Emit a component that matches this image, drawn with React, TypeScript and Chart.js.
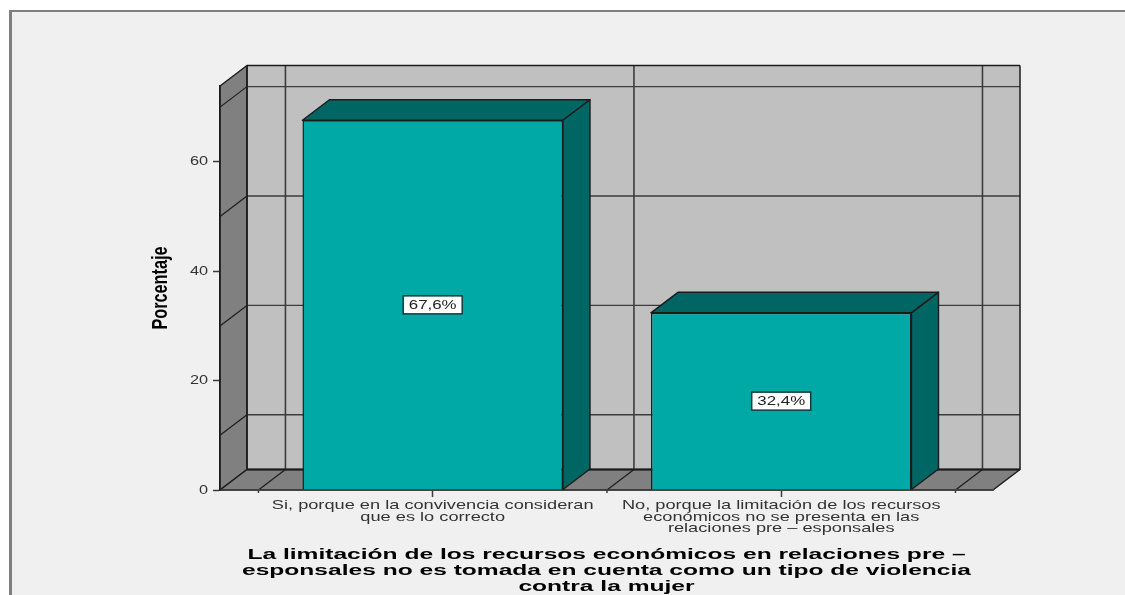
import React, { useEffect, useRef } from "react";
import { Chart, registerables } from "chart.js";

Chart.register(...registerables);

const categories: string[][] = [
  ["Si, porque en la convivencia consideran", "que es lo correcto"],
  ["No, porque la limitación de los recursos", "económicos no se presenta en las", "relaciones pre – esponsales"],
];
const categoryPositions = [0, 1];
const percentages = [67.6, 32.4];
const valueLabels = ["67,6%", "32,4%"];
const yTickValues = [0, 20, 40, 60];
const wallGridValues = [10, 30, 50, 70];
const categoryBoundaries = [-0.5, 0.5, 1.5];
const xTitleLines = [
  "La limitación de los recursos económicos en relaciones pre –",
  "esponsales no es tomada en cuenta como un tipo de violencia",
  "contra la mujer",
];
const yTitle = "Porcentaje";

const DX = 27;
const DY = -20.5;
const C = {
  page: "#ffffff",
  panel: "#f0f0f0",
  frame: "#7f7f7f",
  wall: "#808080",
  back: "#c0c0c0",
  grid: "#3c3c3c",
  edge: "#1c1c1c",
  front: "#00a8a6",
  dark: "#006664",
};

function poly(ctx: CanvasRenderingContext2D, pts: number[][], fill: string | null, stroke: string, lw = 1.5) {
  ctx.beginPath();
  pts.forEach((p, i) => (i ? ctx.lineTo(p[0], p[1]) : ctx.moveTo(p[0], p[1])));
  ctx.closePath();
  if (fill) {
    ctx.fillStyle = fill;
    ctx.fill();
  }
  ctx.strokeStyle = stroke;
  ctx.lineWidth = lw;
  ctx.lineJoin = "round";
  ctx.stroke();
}

function line(ctx: CanvasRenderingContext2D, x1: number, y1: number, x2: number, y2: number, color: string, lw = 1.5) {
  ctx.beginPath();
  ctx.moveTo(x1, y1);
  ctx.lineTo(x2, y2);
  ctx.strokeStyle = color;
  ctx.lineWidth = lw;
  ctx.stroke();
}

// The source picture is a horizontally stretched image: draw text stretched around its anchor.
function stretchText(ctx: any, k: number, draw: () => void) {
  const original = ctx.fillText;
  ctx.fillText = function (text: string, x: number, y: number, ...rest: any[]) {
    ctx.save();
    ctx.translate(x, y);
    ctx.scale(k, 1);
    original.call(ctx, text, 0, 0, ...rest);
    ctx.restore();
  };
  draw();
  delete ctx.fillText;
}

function stretched(scale: any, method: string, k: number) {
  if (scale["_wrapped" + method]) return;
  const original = scale[method];
  scale["_wrapped" + method] = true;
  scale[method] = function (...args: any[]) {
    stretchText(this.ctx, k, () => original.apply(this, args));
  };
}

const scene3d = {
  id: "scene3d",
  afterLayout(chart: any) {
    stretched(chart.scales.x, "drawLabels", 1.4);
    stretched(chart.scales.y, "drawLabels", 1.25);
    stretched(chart.scales.x, "drawTitle", 1.585);
    stretched(chart.scales.y, "drawTitle", 0.74);
  },
  beforeDraw(chart: any) {
    const { ctx, chartArea: a, scales, width, height } = chart;
    const { x, y } = scales;
    ctx.save();
    ctx.fillStyle = C.page;
    ctx.fillRect(0, 0, width, height);
    ctx.fillStyle = C.panel;
    ctx.fillRect(10, 11, width - 10, height - 11);
    ctx.fillStyle = C.frame;
    ctx.fillRect(9, 10, width - 9, 2);
    ctx.fillRect(9, 10, 3, height - 10);

    // back wall
    ctx.fillStyle = C.back;
    ctx.fillRect(a.left + DX, a.top + DY, a.width, a.height);
    // side wall and floor
    poly(ctx, [[a.left, a.top], [a.left + DX, a.top + DY], [a.left + DX, a.bottom + DY], [a.left, a.bottom]], C.wall, C.edge);
    poly(ctx, [[a.left, a.bottom], [a.left + DX, a.bottom + DY], [a.right + DX, a.bottom + DY], [a.right, a.bottom]], C.wall, C.edge);

    wallGridValues.forEach((v) => {
      const py = y.getPixelForValue(v);
      line(ctx, a.left, py, a.left + DX, py + DY, C.edge, 1.2);
      line(ctx, a.left + DX, py + DY, a.right + DX, py + DY, C.grid, 1.4);
    });
    categoryBoundaries.forEach((v) => {
      const px = x.getPixelForValue(v);
      line(ctx, px + DX, a.top + DY, px + DX, a.bottom + DY, C.grid, 1.6);
      line(ctx, px, a.bottom, px + DX, a.bottom + DY, C.edge, 1.2);
      line(ctx, px, a.bottom, px, a.bottom + 3, C.grid, 1.5);
    });
    // wall outline
    line(ctx, a.left + DX, a.top + DY, a.right + DX, a.top + DY, C.edge, 1.5);
    line(ctx, a.right + DX, a.top + DY, a.right + DX, a.bottom + DY, C.edge, 1.5);
    line(ctx, a.left + DX, a.top + DY, a.left + DX, a.bottom + DY, C.edge, 1.5);
    line(ctx, a.left + DX, a.bottom + DY, a.right + DX, a.bottom + DY, C.edge, 2);
    ctx.restore();
  },
  beforeDatasetsDraw(chart: any) {
    const { ctx } = chart;
    const bars = chart.getDatasetMeta(0).data;
    ctx.save();
    bars.forEach((b: any) => {
      const l = b.x - b.width / 2;
      const r = b.x + b.width / 2;
      poly(ctx, [[l, b.y], [l + DX, b.y + DY], [r + DX, b.y + DY], [r, b.y]], C.dark, C.edge);
      poly(ctx, [[r, b.y], [r + DX, b.y + DY], [r + DX, b.base + DY], [r, b.base]], C.dark, C.edge);
    });
    ctx.restore();
  },
  afterDatasetsDraw(chart: any) {
    const { ctx } = chart;
    const bars = chart.getDatasetMeta(0).data;
    ctx.save();
    bars.forEach((b: any, i: number) => {
      const cy = (b.y + b.base) / 2;
      const w = 59;
      const h = 18;
      ctx.fillStyle = "#ffffff";
      ctx.fillRect(b.x - w / 2, cy - h / 2, w, h);
      ctx.strokeStyle = "#123c3c";
      ctx.lineWidth = 1.5;
      ctx.strokeRect(b.x - w / 2, cy - h / 2, w, h);
      ctx.fillStyle = "#222222";
      ctx.font = '13.5px "Liberation Sans"';
      ctx.textAlign = "center";
      ctx.textBaseline = "middle";
      stretchText(ctx, 1.25, () => ctx.fillText(valueLabels[i], b.x, cy + 0.5));
    });
    ctx.restore();
  },
};

export default function App() {
  const ref = useRef<HTMLCanvasElement>(null);
  useEffect(() => {
    document.body.style.margin = "0";
    const chart = new Chart(ref.current as HTMLCanvasElement, {
      type: "bar",
      data: {
        datasets: [
          {
            data: categoryPositions.map((p, i) => ({ x: p, y: percentages[i] })),
            backgroundColor: C.front,
            borderColor: C.edge,
            borderWidth: 1.5,
            barPercentage: 1.495,
            categoryPercentage: 1,
          },
        ],
      },
      options: {
        responsive: false,
        animation: false,
        layout: { padding: { left: 148, right: 132, top: 86, bottom: 0 } },
        plugins: { legend: { display: false }, tooltip: { enabled: false }, title: { display: false } },
        scales: {
          x: {
            type: "linear",
            offset: false,
            min: -0.6103,
            max: 1.6077,
            afterFit: (s: any) => {
              s.height = 105;
            },
            afterBuildTicks: (s: any) => {
              s.ticks = [...categoryBoundaries, ...categoryPositions].sort((p, q) => p - q).map((value) => ({ value }));
            },
            grid: {
              display: true,
              offset: false,
              drawOnChartArea: false,
              drawTicks: true,
              tickLength: 7,
              tickWidth: 1.5,
              tickColor: (c: any) => (categoryPositions.includes(c.tick?.value) ? C.grid : "rgba(0,0,0,0)"),
            },
            border: { display: true, color: C.grid, width: 1.5 },
            ticks: {
              autoSkip: false,
              maxRotation: 0,
              minRotation: 0,
              padding: 2.5,
              color: "#333333",
              font: { family: '"Liberation Sans"', size: 13, lineHeight: 0.9 },
              callback: (v: any) => {
                const i = categoryPositions.indexOf(Number(v));
                return i >= 0 ? categories[i] : "";
              },
            },
            title: {
              display: true,
              text: xTitleLines,
              color: "#000000",
              padding: { top: 0, bottom: 0 },
              font: { family: '"Liberation Sans"', size: 15.5, weight: "bold", lineHeight: 1.05 },
            },
          },
          y: {
            type: "linear",
            min: 0,
            max: 73.86,
            afterFit: (s: any) => {
              s.width = 72;
            },
            afterBuildTicks: (s: any) => {
              s.ticks = yTickValues.map((value) => ({ value }));
            },
            grid: {
              display: true,
              drawOnChartArea: false,
              drawTicks: true,
              tickLength: 7,
              tickWidth: 1.5,
              tickColor: C.grid,
            },
            border: { display: true, color: C.edge, width: 1.5 },
            ticks: {
              padding: 5,
              color: "#333333",
              font: { family: '"Liberation Sans"', size: 13 },
            },
            title: {
              display: true,
              text: yTitle,
              color: "#000000",
              padding: { top: 0, bottom: 0 },
              font: { family: '"Liberation Sans"', size: 22, weight: "bold" },
            },
          },
        },
      } as any,
      plugins: [scene3d],
    } as any);
    return () => chart.destroy();
  }, []);
  return (
    <canvas
      ref={ref}
      width={1125}
      height={595}
      style={{ position: "absolute", left: 0, top: 0, display: "block" }}
    />
  );
}
